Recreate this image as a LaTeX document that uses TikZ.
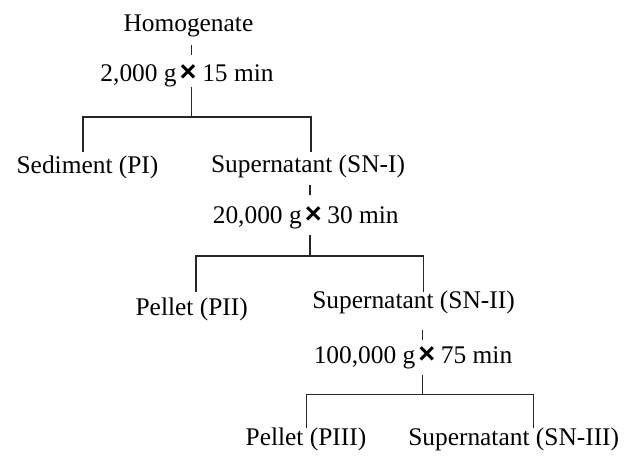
\documentclass[tikz,border=0pt]{standalone}
\usepackage{fontspec}
\setmainfont{Liberation Serif}
\newfontfamily\timesfont{Liberation Sans}
\newcommand{\tms}{\hspace{0.12em}{\timesfont\bfseries\fontsize{29}{30}\selectfont ×}\hspace{0.22em}}
\begin{document}
\begin{tikzpicture}[x=1pt,y=-1pt,
  lbl/.style={anchor=base,inner sep=0pt,font=\fontsize{25.4}{30}\selectfont,text=black},
  conn/.style={draw=black!85,line width=1.4pt}]
\useasboundingbox (0,0) rectangle (629,457);
% labels
\node[lbl] (hom) at (188.4,32) {Homogenate};
\node[lbl] (c1) at (187,82) {2,000 g\tms 15 min};
\node[lbl] (pi) at (87.5,174) {Sediment (PI)};
\node[lbl] (sn1) at (308,173) {Supernatant (SN-I)};
\node[lbl] (c2) at (305.7,223) {20,000 g\tms 30 min};
\node[lbl] (pii) at (191.7,315) {Pellet (PII)};
\node[lbl] (sn2) at (413.5,308) {Supernatant (SN-II)};
\node[lbl] (c3) at (413,363) {100,000 g\tms 75 min};
\node[lbl] (piii) at (306,445) {Pellet (PIII)};
\node[lbl] (sn3) at (513.7,445) {Supernatant (SN-III)};
% connector points
\coordinate (a1) at (191.7,45); \coordinate (a2) at (191.7,55);
\coordinate (a3) at (191.7,87); \coordinate (j1) at (191.7,117);
\coordinate (l1) at (83,117); \coordinate (l1b) at (83,152);
\coordinate (r1) at (311,117); \coordinate (r1b) at (311,152);
\coordinate (b1) at (310,185); \coordinate (b2) at (310,195);
\coordinate (b3) at (310,235); \coordinate (j2) at (310,256);
\coordinate (l2) at (196,256); \coordinate (l2b) at (196,291.7);
\coordinate (r2) at (423.3,256); \coordinate (r2b) at (423.3,291.7);
\coordinate (d1) at (422.7,330); \coordinate (d2) at (422.7,340);
\coordinate (d3) at (422.7,375); \coordinate (j3) at (422.7,394.3);
\coordinate (l3) at (306.7,394.3); \coordinate (l3b) at (306.7,428.3);
\coordinate (r3) at (533.3,394.3); \coordinate (r3b) at (533.3,428.3);
% connectors
\draw[conn] (a1) -- (a2);
\draw[conn] (a3) -- (j1);
\draw[conn] (l1b) -- (l1) -- (r1) -- (r1b);
\draw[conn] (b1) -- (b2);
\draw[conn] (b3) -- (j2);
\draw[conn] (l2b) -- (l2) -- (r2) -- (r2b);
\draw[conn] (d1) -- (d2);
\draw[conn] (d3) -- (j3);
\draw[conn] (l3b) -- (l3) -- (r3) -- (r3b);
\end{tikzpicture}
\end{document}
